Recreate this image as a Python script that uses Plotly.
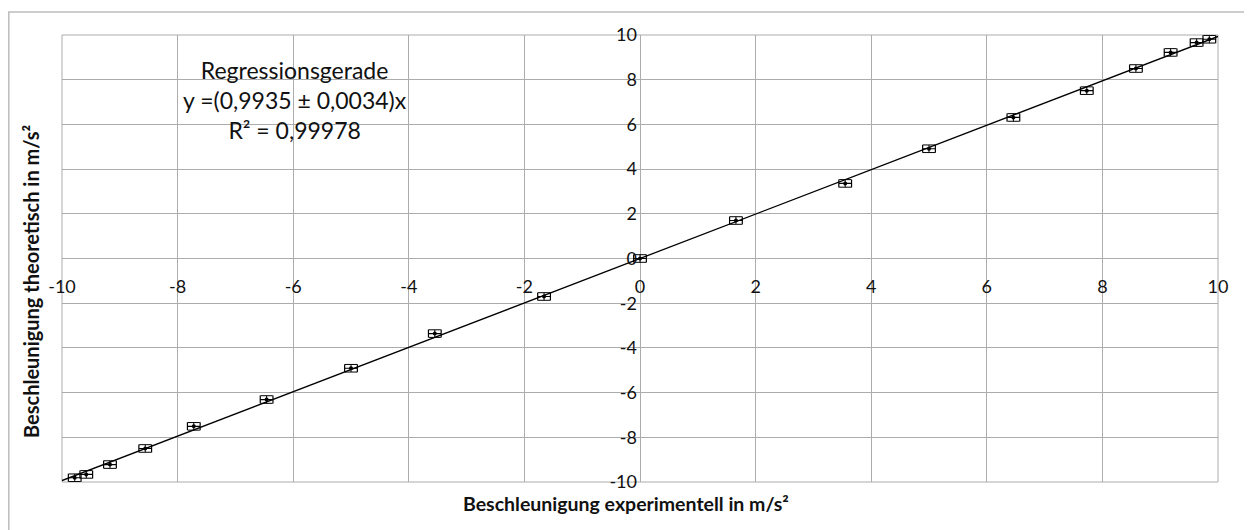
import plotly.graph_objects as go

# Data
x_exp = [-9.78, -9.58, -9.17, -8.56, -7.72, -6.46, -5.00, -3.55, -1.66,
         0.00, 1.66, 3.55, 5.00, 6.46, 7.73, 8.58, 9.18, 9.63, 9.85]
y_theo = [-9.81, -9.66, -9.22, -8.50, -7.51, -6.31, -4.91, -3.36, -1.70,
          0.00, 1.70, 3.36, 4.91, 6.31, 7.51, 8.50, 9.22, 9.66, 9.81]
x_err = [0.11] * len(x_exp)
y_err = [0.17] * len(y_theo)

slope = 0.9935
line_x = [-10, 10]
line_y = [slope * v for v in line_x]

tick_vals = [-10, -8, -6, -4, -2, 0, 2, 4, 6, 8, 10]

FONT = "Lato"
GRID = "#acacac"

# page offset from default body margin (8px)
OFF = 8
PL, PR, PT, PB = 62, 1218, 35, 482  # plot area in page pixels


def px(xp):
    return (xp - PL) / (PR - PL)


def py(yp):
    return (PB - yp) / (PB - PT)


fig = go.Figure()

fig.add_trace(go.Scatter(
    x=line_x, y=line_y, mode="lines",
    line=dict(color="black", width=1.3),
    hoverinfo="skip", showlegend=False,
))

fig.add_trace(go.Scatter(
    x=x_exp, y=y_theo, mode="markers",
    marker=dict(color="black", size=4),
    error_x=dict(type="data", array=x_err, color="black", thickness=1.2, width=4),
    error_y=dict(type="data", array=y_err, color="black", thickness=1, width=6),
    showlegend=False,
))

fig.update_layout(
    width=1252, height=530,
    margin=dict(l=PL - OFF, r=1252 - PR + OFF, t=PT - OFF, b=530 - PB + OFF),
    paper_bgcolor="white", plot_bgcolor="white",
    font=dict(family=FONT, size=18, color="#111"),
    xaxis=dict(
        range=[-10, 10], tickvals=tick_vals, ticktext=[str(v) for v in tick_vals],
        anchor="free", position=0.5,
        showgrid=True, gridcolor=GRID, gridwidth=1,
        zeroline=True, zerolinecolor=GRID, zerolinewidth=1,
        showline=False, ticks="", ticklabelstandoff=15,
        tickfont=dict(family=FONT, size=18, color="#111"),
    ),
    yaxis=dict(
        range=[-10, 10], tickvals=tick_vals, ticktext=[str(v) for v in tick_vals],
        anchor="free", position=0.5,
        showgrid=True, gridcolor=GRID, gridwidth=1,
        zeroline=True, zerolinecolor=GRID, zerolinewidth=1,
        showline=False, ticks="", ticklabelstandoff=3,
        tickfont=dict(family=FONT, size=18, color="#111"),
    ),
    shapes=[
        dict(type="rect", xref="paper", yref="paper", x0=0, x1=1, y0=0, y1=1,
             line=dict(color=GRID, width=1), layer="below"),
        dict(type="rect", xref="paper", yref="paper",
             x0=px(OFF + 0.8), x1=px(1250),
             y0=py(560), y1=py(12),
             line=dict(color="#bdbdbd", width=1.5), layer="below"),
    ],
    annotations=[
        dict(text="Regressionsgerade<br>y =(0,9935 ± 0,0034)x<br>R² = 0,99978",
             xref="paper", yref="paper",
             x=px(295), y=py(100),
             xanchor="center", yanchor="middle", showarrow=False, align="center",
             font=dict(family=FONT, size=23, color="#111")),
        dict(text="<b>Beschleunigung experimentell in m/s²</b>",
             xref="paper", yref="paper",
             x=px(626), y=py(503),
             xanchor="center", yanchor="middle", showarrow=False,
             font=dict(family=FONT, size=19.5, color="#111")),
        dict(text="<b>Beschleunigung theoretisch in m/s²</b>",
             xref="paper", yref="paper", textangle=-90,
             x=px(31), y=py(281),
             xanchor="center", yanchor="middle", showarrow=False,
             font=dict(family=FONT, size=20, color="#111")),
    ],
)

fig.write_html("out.html")
